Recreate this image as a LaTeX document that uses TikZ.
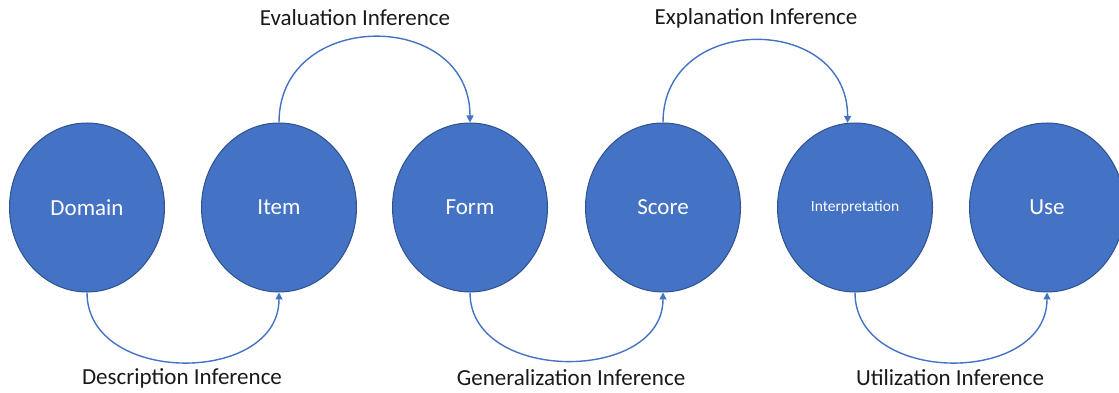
\documentclass[tikz,border=0pt]{standalone}
\usepackage{fontspec}
\setmainfont{Carlito}
\usetikzlibrary{shapes.geometric,arrows.meta}
\definecolor{fillblue}{HTML}{4472C4}
\definecolor{edgeblue}{HTML}{2F528F}
\begin{document}
\begin{tikzpicture}[x=1pt,y=1pt,
  stage/.style={ellipse,draw=edgeblue,line width=1pt,fill=fillblue,inner sep=0pt,
    minimum width=155pt,minimum height=169pt,text=white,font=\fontsize{23}{27}\selectfont},
  small/.style={font=\fontsize{15.5}{18}\selectfont},
  conn/.style={draw=fillblue,line width=1.4pt,-{Triangle[width=7pt,length=7pt]}},
  lbl/.style={inner sep=0pt,text=black!90,font=\fontsize{23}{27}\selectfont}]
\useasboundingbox (0,0) rectangle (1119,393);
\node[stage] (domain) at (87,185.5) {Domain};
\node[stage] (item) at (279,185.5) {Item};
\node[stage] (form) at (470,185.5) {Form};
\node[stage] (score) at (663,185.5) {Score};
\node[stage,small] (interp) at (855,185.5) {Interpretation};
\node[stage] (use) at (1047,185.5) {Use};
\draw[conn] (item.north) .. controls +(0,114) and +(0,114) .. (form.north);
\draw[conn] (score.north) .. controls +(0,110) and +(0,110) .. (interp.95);
\draw[conn] (domain.south) .. controls +(0,-93) and +(0,-93) .. (item.south);
\draw[conn] (form.south) .. controls +(0,-91) and +(0,-91) .. (score.south);
\draw[conn] (interp.south) .. controls +(0,-93) and +(0,-93) .. (use.south);
\node[lbl] (eval) at (355,375) {Evaluation Inference};
\node[lbl] (expl) at (756,375) {Explanation Inference};
\node[lbl] (desc) at (182,15) {Description Inference};
\node[lbl] (gen) at (571,15) {Generalization Inference};
\node[lbl] (util) at (950,15) {Utilization Inference};
\end{tikzpicture}
\end{document}
